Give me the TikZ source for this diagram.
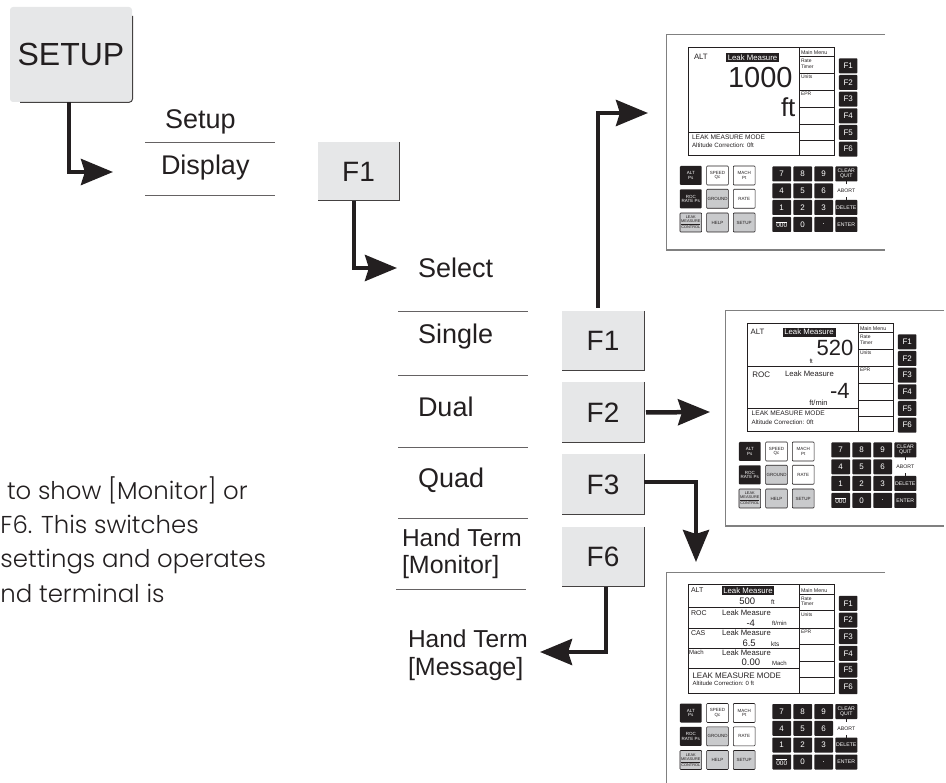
\documentclass[tikz,border=0pt]{standalone}
\usepackage{fontspec}
\setmainfont{Liberation Sans}
\newfontfamily\bodyfont[UprightFont=* Light]{Poppins}
\usetikzlibrary{arrows.meta}
\definecolor{keygrey}{HTML}{E6E7E8}
\definecolor{inkblack}{HTML}{231F20}
\definecolor{panelgrey}{HTML}{C9CACC}
\newcommand{\fsz}[1]{\fontsize{#1}{#1}\selectfont}
\tikzstyle{lbl}=[anchor=base west, inner sep=0, outer sep=0, text=inkblack]
\tikzstyle{bigkey}=[fill=keygrey, inner sep=0, outer sep=0, font=\fsz{28}, text=inkblack]
\tikzstyle{keyedge}=[draw=inkblack!85, line width=1pt]
\tikzstyle{rulel}=[draw=inkblack!70, line width=0.8pt]
\tikzstyle{flow}=[draw=inkblack, line width=4.5pt, -{Stealth[length=32pt, width=26pt, inset=4pt]}]
\tikzstyle{softkey}=[fill=inkblack, text=white, inner sep=0, outer sep=0, rounded corners=0.8pt, minimum width=18.5pt, minimum height=15pt, font=\fsz{8}]
\tikzstyle{numkey}=[softkey, minimum width=18.7pt, font=\fsz{8}]
\tikzstyle{widekey}=[softkey, minimum width=22pt, font=\fsz{5.2}, align=center]
\tikzstyle{darkkey}=[softkey, minimum width=21.7pt, minimum height=19pt, font=\fsz{4.5}, align=center]
\tikzstyle{whitekey}=[darkkey, fill=white, draw=inkblack, text=inkblack, line width=0.6pt]
\tikzstyle{greykey}=[whitekey, fill=panelgrey]
\tikzstyle{scrline}=[draw=inkblack, line width=0.7pt]

% the part all three front panels share
\newcommand{\frontpanel}[1]{
    \draw[gray, line width=1.1pt] (885, 34.7) -| (666.7, 250) -- (885, 250);
    \draw[scrline] (688.3, 47.3) rectangle (834, 155.7);
    \draw[scrline] (799.3, 47.3) -- (799.3, 155.7);
    \foreach \y in {56.7, 73.3, 90.7, 107.3, 124, 140.3}
        \draw[scrline] (799.3, \y) -- (834, \y);
    \node[lbl, font=\fsz{5.3}] (#1menu) at (801, 54.5) {Main Menu};
    \node[lbl, font=\fsz{5}] (#1rate) at (801, 62.7) {Rate};
    \node[lbl, font=\fsz{5}] (#1timer) at (801, 68.2) {Timer};
    \node[lbl, font=\fsz{5}] (#1units) at (801, 79) {Units};
    \node[lbl, font=\fsz{5}] (#1epr) at (801, 95.7) {EPR};
    \foreach \i/\y in {1/65.8, 2/82.5, 3/99.2, 4/115.8, 5/132.5, 6/149.2}
        \node[softkey] (#1F\i) at (848.2, \y) {F\i};
    \foreach \name/\x/\y/\txt in {altps/690.8/175.5/{ALT\\Ps}, rocps/690.8/198.8/{ROC\\RATE Ps}}
        \node[darkkey] (#1\name) at (\x, \y) {\txt};
    \foreach \name/\x/\y/\txt in {speed/717.5/175.5/{SPEED\\Qc}, mach/744.2/175.5/{MACH\\Pt}, rate/744.2/198.8/{RATE}}
        \node[whitekey] (#1\name) at (\x, \y) {\txt};
    \foreach \name/\x/\y/\txt in {ground/717.5/198.8/{GROUND}, help/717.5/222.5/{HELP}, setup/744.2/222.5/{SETUP}}
        \node[greykey] (#1\name) at (\x, \y) {\txt};
    \node[greykey, font=\fsz{3.9}] (#1leak) at (690.8, 222.5) {LEAK\\\underline{MEASURE}\\CONTROL};
    \foreach \txt/\x/\y in {7/781.7/174, 8/802.7/174, 9/823.7/174,
                            4/781.7/190.8, 5/802.7/190.8, 6/823.7/190.8,
                            1/781.7/207.5, 2/802.7/207.5, 3/823.7/207.5,
                            0/802.7/224.5}
        \node[numkey] (#1num\txt) at (\x, \y) {\txt};
    \node[numkey] (#1zeros) at (781.7, 224.5) {$\overline{\mbox{\fsz{6.5}000}}$};
    \node[numkey] (#1dot) at (823.7, 224.5) {.};
    \node[widekey] (#1clear) at (846.3, 174) {CLEAR\\QUIT};
    \node[widekey, fill=none, text=inkblack] (#1abort) at (846.3, 190.8) {ABORT};
    \draw[inkblack, line width=0.4pt] ([yshift=-1pt]#1abort.north) -- +(0, -4);
    \draw[inkblack, line width=0.4pt] ([yshift=1pt]#1abort.south) -- +(0, 4);
    \node[widekey] (#1delete) at (846.3, 207.5) {DELETE};
    \node[widekey] (#1enter) at (846.3, 224.5) {ENTER};
}

\begin{document}
\begin{tikzpicture}[x=1pt, y=-1pt]
    \useasboundingbox (0, 0) rectangle (946, 783);
    % keys and menu text on the left
    \node[bigkey, minimum width=122pt, minimum height=95pt, rounded corners=3pt, font=\fsz{32}] (setupkey) at (71, 54.5) {SETUP};
    \draw[keyedge, rounded corners=4pt] (20, 102.5) -| (132.7, 16);
    \node[bigkey, minimum width=81pt, minimum height=59pt] (menuF1) at (358.5, 171.5) {F1};
    \node[bigkey, minimum width=82pt, minimum height=60pt] (selF1) at (603, 341) {F1};
    \node[bigkey, minimum width=82pt, minimum height=61pt] (selF2) at (603, 412.5) {F2};
    \node[bigkey, minimum width=82pt, minimum height=61pt] (selF3) at (603, 484.5) {F3};
    \node[bigkey, minimum width=82pt, minimum height=60pt] (selF6) at (603, 557) {F6};
    \foreach \k in {menuF1, selF1, selF2, selF3, selF6}
        \draw[keyedge] (\k.north east) |- (\k.south west);

    \node[lbl, font=\fsz{27}] (lblsetup) at (165, 129) {Setup};
    \node[lbl, font=\fsz{27}] (lbldisplay) at (161, 175) {Display};
    \node[lbl, font=\fsz{27}] (lblselect) at (418, 278) {Select};
    \node[lbl, font=\fsz{27}] (lblsingle) at (418, 344) {Single};
    \node[lbl, font=\fsz{27}] (lbldual) at (418, 417) {Dual};
    \node[lbl, font=\fsz{27}] (lblquad) at (418, 488) {Quad};
    \node[lbl, font=\fsz{24.5}] (lblmonitor) at (402, 547) {Hand Term};
    \node[lbl, font=\fsz{25}] (lblmonitorb) at (402, 574) {[Monitor]};
    \node[lbl, font=\fsz{24.5}] (lblmessage) at (408, 647) {Hand Term};
    \node[lbl, font=\fsz{25}] (lblmessageb) at (408, 675) {[Message]};

    \draw[rulel] (145, 142.5) -- (275, 142.5);
    \draw[rulel] (145, 195) -- (275, 195);
    \foreach \y in {311, 375, 447, 518}
        \draw[rulel] (398, \y) -- (528, \y);
    \draw[rulel] (396, 589) -- (526, 589);

    % free ends of the arrows
    \coordinate (endA) at (113, 172);
    \coordinate (endB) at (397, 268);
    \coordinate (endC) at (648, 113);
    \coordinate (endD) at (710, 412);
    \coordinate (endE) at (696, 562);
    \coordinate (endF) at (540, 652);
    \draw[flow] ([xshift=-2pt]setupkey.south) |- (endA);
    \draw[flow] ([xshift=-4.5pt]menuF1.south) |- (endB);
    \draw[flow, shorten <=3pt] ([xshift=-5pt]selF1.north) |- (endC);
    \draw[flow, shorten <=2pt] (selF2.east) -- (endD);
    \draw[flow] ([yshift=2.5pt]selF3.east) -| (endE);
    \draw[flow] ([xshift=3pt]selF6.south) |- (endF);

    % paragraph at the edge of the page
    \node[lbl, font=\bodyfont\fsz{24.4}] (bodya) at (7, 500) {to show [Monitor] or};
    \node[lbl, font=\bodyfont\fsz{24.4}] (bodyb) at (0.5, 534) {F6.  This switches};
    \node[lbl, font=\bodyfont\fsz{24.4}] (bodyc) at (0.5, 568) {settings and operates};
    \node[lbl, font=\bodyfont\fsz{24.4}] (bodyd) at (0.5, 602) {nd terminal is};

    % single display
    \begin{scope}
        \frontpanel{pa}
        \node[lbl, font=\fsz{7.8}] (paalt) at (694, 60) {ALT};
        \node[fill=inkblack, text=white, inner sep=0, minimum width=53pt, minimum height=9pt, font=\fsz{7.8}] (paleak) at (752.5, 57.8) {Leak Measure};
        \node[lbl, font=\fsz{29}] (pavalue) at (728, 88) {1000};
        \node[lbl, font=\fsz{26}] (paunit) at (781, 117) {ft};
        \draw[scrline] (688.3, 132) -- (799.3, 132);
        \node[lbl, font=\fsz{6.6}] (pamode) at (692, 140) {LEAK MEASURE MODE};
        \node[lbl, font=\fsz{6.2}] (pacorr) at (692, 148) {Altitude Correction: 0ft};
    \end{scope}

    % dual display
    \begin{scope}[shift={(59, 276)}]
        \frontpanel{pb}
        \node[lbl, font=\fsz{7.8}] (pbalt) at (691.7, 59) {ALT};
        \node[fill=inkblack, text=white, inner sep=0, minimum width=53pt, minimum height=9pt, font=\fsz{7.8}] (pbleak) at (750, 56.2) {Leak Measure};
        \node[lbl, font=\fsz{22}] (pbvalue) at (757.7, 80) {520};
        \node[lbl, font=\fsz{6}] (pbunit) at (750.5, 87.3) {ft};
        \draw[scrline] (688.3, 90.3) -- (799.3, 90.3);
        \node[lbl, font=\fsz{8}] (pbroc) at (693.3, 101.7) {ROC};
        \node[lbl, font=\fsz{7.7}] (pbleakb) at (726, 101) {Leak Measure};
        \node[lbl, font=\fsz{22}] (pbvalueb) at (771, 122.3) {-4};
        \node[lbl, font=\fsz{7.5}] (pbunitb) at (750.3, 129.7) {ft/min};
        \draw[scrline] (688.3, 132.3) -- (799.3, 132.3);
        \node[lbl, font=\fsz{6.6}] (pbmode) at (692.7, 140) {LEAK MEASURE MODE};
        \node[lbl, font=\fsz{6.2}] (pbcorr) at (692.7, 148.3) {Altitude Correction: 0ft};
    \end{scope}

    % quad display
    \begin{scope}[shift={(0, 537.5)}]
        \frontpanel{pc}
        \node[lbl, font=\fsz{7}] (pcalt) at (691, 54.7) {ALT};
        \node[fill=inkblack, text=white, inner sep=0, minimum width=52.6pt, minimum height=9pt, font=\fsz{7.8}] (pcleak) at (748, 53.2) {Leak Measure};
        \node[lbl, font=\fsz{9.5}] (pcvalue) at (739.3, 66.8) {500};
        \node[lbl, font=\fsz{6.5}] (pcunit) at (771, 66.8) {ft};
        \draw[scrline] (688.3, 69.7) -- (799.3, 69.7);
        \node[lbl, font=\fsz{7}] (pcroc) at (691, 78) {ROC};
        \node[lbl, font=\fsz{7.7}] (pcleakb) at (722, 78) {Leak Measure};
        \node[lbl, font=\fsz{9.5}] (pcvalueb) at (746.5, 88.7) {-4};
        \node[lbl, font=\fsz{6}] (pcunitb) at (772, 88) {ft/min};
        \draw[scrline] (688.3, 91) -- (799.3, 91);
        \node[lbl, font=\fsz{7}] (pccas) at (691, 98.3) {CAS};
        \node[lbl, font=\fsz{7.7}] (pcleakc) at (722, 98.3) {Leak Measure};
        \node[lbl, font=\fsz{9.5}] (pcvaluec) at (742.5, 108.7) {6.5};
        \node[lbl, font=\fsz{6.5}] (pcunitc) at (771, 108.7) {kts};
        \draw[scrline] (688.3, 111.3) -- (799.3, 111.3);
        \node[lbl, font=\fsz{6}] (pcmach) at (689, 116.7) {Mach};
        \node[lbl, font=\fsz{7.7}] (pcleakd) at (722, 118.3) {Leak Measure};
        \node[lbl, font=\fsz{9.5}] (pcvalued) at (741.7, 128) {0.00};
        \node[lbl, font=\fsz{6}] (pcunitd) at (772, 128) {Mach};
        \draw[scrline] (688.3, 131.3) -- (799.3, 131.3);
        \node[lbl, font=\fsz{8}] (pcmode) at (692.5, 140.8) {LEAK MEASURE MODE};
        \node[lbl, font=\fsz{6}] (pccorr) at (692.5, 148) {Altitude Correction: 0 ft};
    \end{scope}
\end{tikzpicture}
\end{document}
